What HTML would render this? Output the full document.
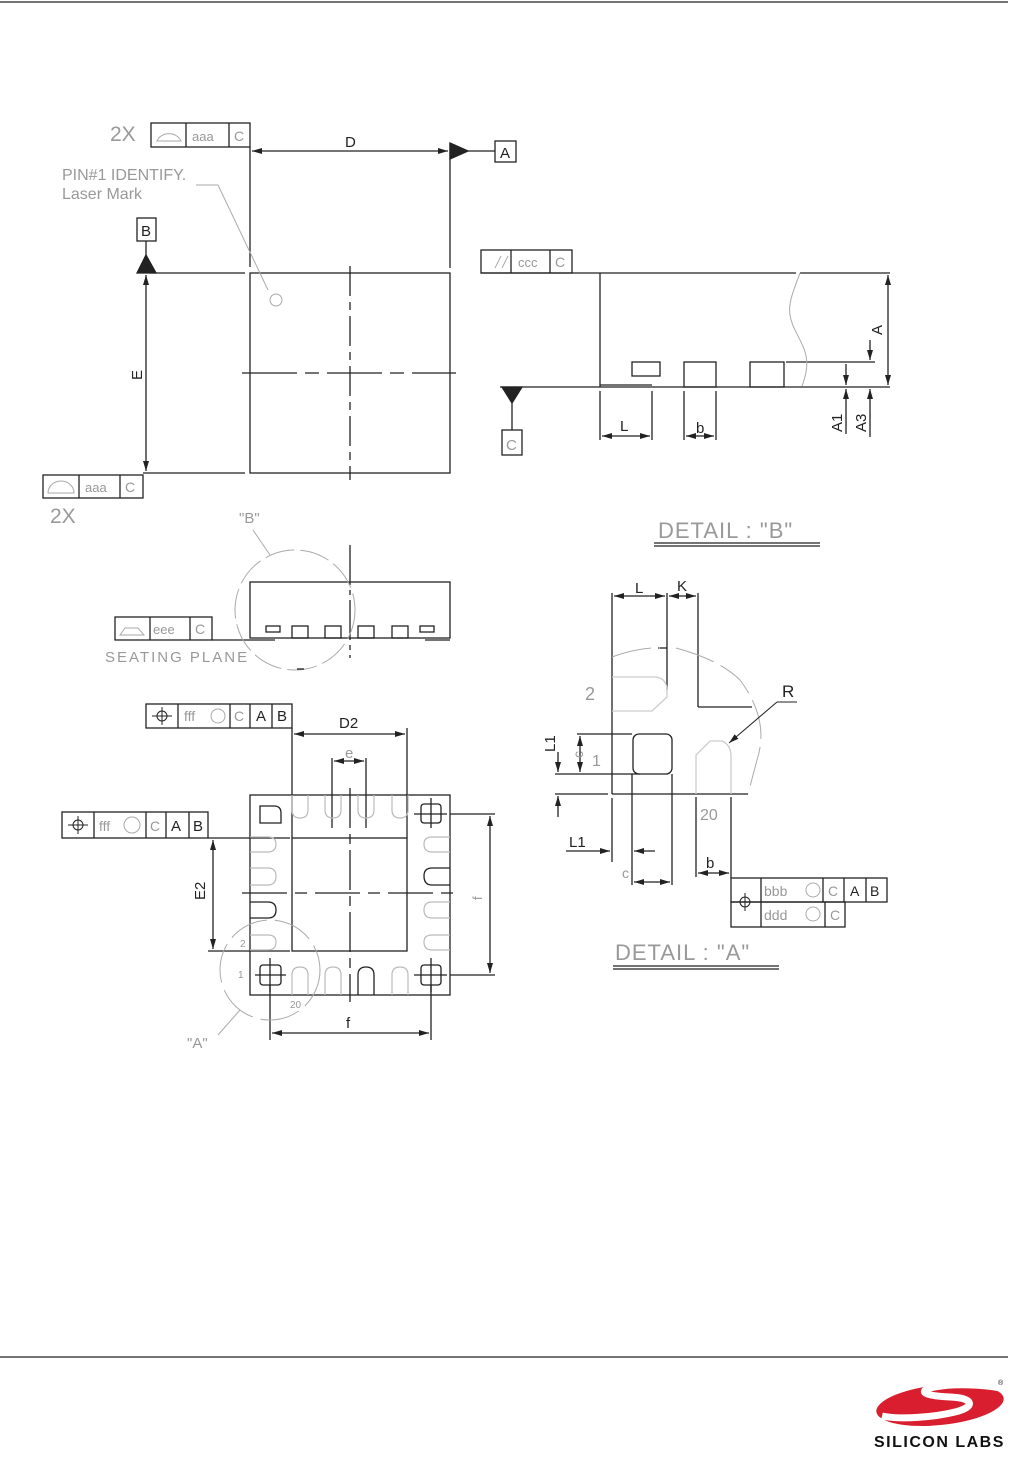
<!DOCTYPE html>
<html><head><meta charset="utf-8"><style>
html,body{margin:0;padding:0;background:#fff;}
svg{display:block;}
text{font-family:"Liberation Sans",sans-serif;}
.t{fill:#999;font-weight:normal;}
.d{fill:#222;}
</style></head><body>
<svg width="1010" height="1468" viewBox="0 0 1010 1468" xmlns="http://www.w3.org/2000/svg">
<defs>
<marker id="ar" viewBox="0 0 10 6" refX="10" refY="3" markerWidth="10" markerHeight="6" orient="auto-start-reverse" markerUnits="userSpaceOnUse"><path d="M0,0 L10,3 L0,6 z" fill="#222"/></marker>
</defs>
<g stroke="#222" stroke-width="1.3" fill="none">
<line x1="0" y1="2" x2="1008" y2="2"/>
<line x1="0" y1="1357" x2="1008" y2="1357"/>

<!-- TOP VIEW -->
<rect x="250" y="273" width="200" height="200"/>
<line x1="350" y1="266" x2="350" y2="480" stroke-dasharray="30,6,8,6"/>
<line x1="242" y1="373" x2="456" y2="373" stroke-dasharray="55,8,14,8"/>
<line x1="250" y1="147" x2="250" y2="267"/>
<line x1="450" y1="143" x2="450" y2="268"/>
<line x1="252" y1="151" x2="448" y2="151" marker-start="url(#ar)" marker-end="url(#ar)"/>
<path d="M450,143 L468,151 L450,159 z" fill="#222"/>
<line x1="468" y1="151" x2="495" y2="151"/>
<rect x="495" y="141" width="21" height="21"/>
<rect x="151" y="123" width="99" height="24"/>
<line x1="186" y1="123" x2="186" y2="147"/><line x1="229" y1="123" x2="229" y2="147"/>
<rect x="137" y="218" width="19" height="23"/>
<line x1="146" y1="241" x2="146" y2="256"/>
<path d="M137,273 L146,255 L156,273 z" fill="#222"/>
<line x1="150" y1="273" x2="245" y2="273"/>
<line x1="146" y1="275" x2="146" y2="471" marker-start="url(#ar)" marker-end="url(#ar)"/>
<line x1="143" y1="473" x2="245" y2="473"/>
<rect x="43" y="475" width="100" height="23"/>
<line x1="79" y1="475" x2="79" y2="498"/><line x1="120" y1="475" x2="120" y2="498"/>
<g stroke="#aaa" stroke-width="1">
<polyline points="196,185 218,185 268,290"/>
<circle cx="276" cy="300" r="6"/>
<path d="M157,141 A13,12 0 0 1 181,141 Z"/>
<path d="M48,493 A13,12 0 0 1 74,493 Z"/>
</g>

<!-- SIDE VIEW RIGHT -->
<rect x="481" y="250" width="91" height="23"/>
<line x1="511" y1="250" x2="511" y2="273"/><line x1="550" y1="250" x2="550" y2="273"/>
<line x1="495" y1="268" x2="501" y2="256" stroke="#aaa" stroke-width="1"/><line x1="502" y1="268" x2="508" y2="256" stroke="#aaa" stroke-width="1"/>
<line x1="481" y1="273" x2="796" y2="273"/><line x1="800" y1="273" x2="890" y2="273"/>
<line x1="600" y1="273" x2="600" y2="387"/>
<line x1="500" y1="387" x2="890" y2="387"/>
<line x1="600" y1="385" x2="652" y2="385"/>
<path d="M502,387 L512,403 L522,387 z" fill="#222"/>
<line x1="512" y1="403" x2="512" y2="430"/>
<rect x="502" y="430" width="20" height="25"/>
<rect x="632" y="362" width="28" height="14"/>
<rect x="684" y="362" width="32" height="25"/>
<rect x="750" y="362" width="34" height="25"/>
<line x1="786" y1="362" x2="875" y2="362"/>
<path d="M800,273 C790,300 785,310 795,330 C805,350 812,360 802,386" stroke="#aaa" stroke-width="1"/>
<line x1="888" y1="275" x2="888" y2="385" marker-start="url(#ar)" marker-end="url(#ar)"/>
<line x1="870" y1="340" x2="870" y2="360" marker-end="url(#ar)"/>
<line x1="870" y1="437" x2="870" y2="389" marker-end="url(#ar)"/>
<line x1="846" y1="364" x2="846" y2="385" marker-end="url(#ar)"/>
<line x1="846" y1="434" x2="846" y2="389" marker-end="url(#ar)"/>
<line x1="600" y1="391" x2="600" y2="440"/><line x1="652" y1="391" x2="652" y2="440"/>
<line x1="602" y1="436" x2="650" y2="436" marker-start="url(#ar)" marker-end="url(#ar)"/>
<line x1="684" y1="391" x2="684" y2="440"/><line x1="716" y1="391" x2="716" y2="440"/>
<line x1="686" y1="436" x2="714" y2="436" marker-start="url(#ar)" marker-end="url(#ar)"/>

<!-- SIDE VIEW BOTTOM -->
<rect x="250" y="582" width="200" height="56"/>
<line x1="350" y1="545" x2="350" y2="658" stroke-dasharray="40,5,5,5"/>
<rect x="266" y="626" width="14" height="6"/>
<rect x="292" y="626" width="16" height="12"/>
<rect x="325" y="626" width="16" height="12"/>
<rect x="358" y="626" width="16" height="12"/>
<rect x="392" y="626" width="16" height="12"/>
<rect x="420" y="626" width="14" height="6"/>
<line x1="212" y1="640" x2="275" y2="640"/>
<line x1="425" y1="640" x2="450" y2="640"/>
<rect x="115" y="617" width="97" height="23"/>
<line x1="150" y1="617" x2="150" y2="640"/><line x1="190" y1="617" x2="190" y2="640"/>
<circle cx="295" cy="610" r="60" stroke="#aaa" stroke-width="1" stroke-dasharray="30,6"/>
<line x1="253" y1="530" x2="270" y2="555" stroke="#aaa" stroke-width="1"/>
<path d="M120,635 L125,628 L138,628 L144,635 Z" stroke="#aaa" stroke-width="1"/>
<line x1="297" y1="669" x2="304" y2="669"/>
<line x1="654" y1="543" x2="820" y2="543"/><line x1="654" y1="546" x2="820" y2="546"/>

<!-- BOTTOM VIEW -->
<rect x="250" y="795" width="200" height="200"/>
<rect x="292" y="838" width="115" height="113"/>
<line x1="350" y1="788" x2="350" y2="1002" stroke-dasharray="40,6,10,6"/>
<line x1="242" y1="893" x2="455" y2="893" stroke-dasharray="45,8,12,8"/>
<rect x="146" y="704" width="146" height="24"/>
<line x1="178" y1="704" x2="178" y2="728"/><line x1="230" y1="704" x2="230" y2="728"/><line x1="250" y1="704" x2="250" y2="728"/><line x1="272" y1="704" x2="272" y2="728"/>
<rect x="62" y="812" width="146" height="26"/>
<line x1="94" y1="812" x2="94" y2="838"/><line x1="146" y1="812" x2="146" y2="838"/><line x1="166" y1="812" x2="166" y2="838"/><line x1="189" y1="812" x2="189" y2="838"/>
<line x1="292" y1="728" x2="292" y2="838"/><line x1="407" y1="728" x2="407" y2="838"/>
<line x1="294" y1="734" x2="405" y2="734" marker-start="url(#ar)" marker-end="url(#ar)"/>
<line x1="332" y1="758" x2="332" y2="828"/><line x1="366" y1="758" x2="366" y2="828"/>
<line x1="334" y1="761" x2="364" y2="761" marker-start="url(#ar)" marker-end="url(#ar)"/>
<line x1="208" y1="838" x2="290" y2="838"/><line x1="208" y1="951" x2="290" y2="951"/>
<line x1="213" y1="840" x2="213" y2="949" marker-start="url(#ar)" marker-end="url(#ar)"/>
<line x1="450" y1="814" x2="495" y2="814"/><line x1="450" y1="975" x2="495" y2="975"/>
<line x1="490" y1="816" x2="490" y2="973" marker-start="url(#ar)" marker-end="url(#ar)"/>
<line x1="270" y1="985" x2="270" y2="1040"/><line x1="431" y1="985" x2="431" y2="1040"/>
<line x1="272" y1="1033" x2="429" y2="1033" marker-start="url(#ar)" marker-end="url(#ar)"/>
<!-- corner pads -->
<path d="M260,806 L274,806 Q281,806 281,813 L281,823 L260,823 Z"/>
<rect x="421" y="804" width="20" height="19" rx="3"/>
<line x1="414" y1="814" x2="447" y2="814"/><line x1="431" y1="798" x2="431" y2="828"/>
<rect x="260" y="965" width="21" height="20" rx="3"/>
<line x1="270" y1="958" x2="270" y2="992"/><line x1="255" y1="975" x2="286" y2="975"/>
<rect x="421" y="965" width="20" height="20" rx="3"/>
<line x1="414" y1="975" x2="447" y2="975"/><line x1="431" y1="958" x2="431" y2="992"/>
<!-- side pads -->
<g stroke="#bbb" stroke-width="1.2">
<path d="M292,795 L292,810 Q292,818 300,818 Q308,818 308,810 L308,795"/>
<path d="M325,795 L325,810 Q325,818 333,818 Q341,818 341,810 L341,795"/>
<path d="M358,795 L358,810 Q358,818 366,818 Q374,818 374,810 L374,795"/>
<path d="M392,795 L392,810 Q392,818 400,818 Q408,818 408,810 L408,795"/>
<path d="M292,995 L292,975 Q292,967 300,967 Q308,967 308,975 L308,995"/>
<path d="M325,995 L325,975 Q325,967 333,967 Q341,967 341,975 L341,995"/>
<path d="M392,995 L392,975 Q392,967 400,967 Q408,967 408,975 L408,995"/>
<path d="M250,837 L268,837 Q276,837 276,844 Q276,852 268,852 L250,852"/>
<path d="M250,868 L268,868 Q276,868 276,876 Q276,885 268,885 L250,885"/>
<path d="M250,935 L268,935 Q276,935 276,942 Q276,950 268,950 L250,950"/>
<path d="M450,837 L432,837 Q424,837 424,844 Q424,852 432,852 L450,852"/>
<path d="M450,902 L432,902 Q424,902 424,910 Q424,918 432,918 L450,918"/>
<path d="M450,935 L432,935 Q424,935 424,942 Q424,950 432,950 L450,950"/>
</g>
<path d="M358,995 L358,975 Q358,967 366,967 Q374,967 374,975 L374,995"/>
<path d="M250,902 L268,902 Q276,902 276,910 Q276,918 268,918 L250,918"/>
<path d="M450,868 L432,868 Q424,868 424,876 Q424,885 432,885 L450,885"/>
<circle cx="270" cy="970" r="50" stroke="#aaa" stroke-width="1" stroke-dasharray="40,8"/>
<line x1="218" y1="1035" x2="240" y2="1010" stroke="#aaa" stroke-width="1"/>

<!-- DETAIL A -->
<line x1="612" y1="593" x2="612" y2="794"/>
<line x1="667" y1="593" x2="667" y2="690"/>
<line x1="698" y1="593" x2="698" y2="707"/>
<line x1="698" y1="707" x2="752" y2="707"/>
<line x1="614" y1="596" x2="665" y2="596" marker-start="url(#ar)" marker-end="url(#ar)"/>
<line x1="669" y1="596" x2="696" y2="596" marker-start="url(#ar)" marker-end="url(#ar)"/>
<line x1="658" y1="648" x2="667" y2="648"/>
<path d="M612,657 Q640,647 660,648 M676,648 Q720,660 740,680 Q770,720 757,760 L748,794" stroke="#aaa" stroke-width="1" stroke-dasharray="40,8"/>
<line x1="612" y1="794" x2="748" y2="794"/>
<path d="M612,677 L656,677 Q667,679 667,690 L667,697 L652,711 L612,711" stroke="#ccc"/>
<rect x="633" y="734" width="39" height="40" rx="6"/>
<path d="M696,794 L696,755 L710,741 L722,741 Q731,745 731,756 L731,794" stroke="#ccc"/>
<line x1="577" y1="734" x2="632" y2="734"/>
<line x1="555" y1="774" x2="640" y2="774"/>
<line x1="555" y1="794" x2="608" y2="794"/>
<line x1="580" y1="736" x2="580" y2="772" marker-start="url(#ar)" marker-end="url(#ar)"/>
<line x1="558" y1="752" x2="558" y2="772" marker-end="url(#ar)"/>
<line x1="558" y1="817" x2="558" y2="796" marker-end="url(#ar)"/>
<line x1="612" y1="798" x2="612" y2="862"/>
<line x1="632" y1="774" x2="632" y2="885"/><line x1="672" y1="774" x2="672" y2="885"/>
<line x1="566" y1="851" x2="610" y2="851" marker-end="url(#ar)"/>
<line x1="655" y1="851" x2="634" y2="851" marker-end="url(#ar)"/>
<line x1="634" y1="882" x2="670" y2="882" marker-start="url(#ar)" marker-end="url(#ar)"/>
<line x1="696" y1="797" x2="696" y2="877"/><line x1="731" y1="797" x2="731" y2="878"/>
<line x1="698" y1="873" x2="729" y2="873" marker-start="url(#ar)" marker-end="url(#ar)"/>
<line x1="777" y1="702" x2="729" y2="743" stroke-width="1" marker-end="url(#ar)"/>
<line x1="777" y1="702" x2="797" y2="702" stroke-width="1"/>
<rect x="731" y="878" width="156" height="24"/>
<rect x="731" y="902" width="114" height="25"/>
<line x1="761" y1="878" x2="761" y2="927"/><line x1="823" y1="878" x2="823" y2="902"/><line x1="844" y1="878" x2="844" y2="902"/><line x1="866" y1="878" x2="866" y2="902"/><line x1="825" y1="902" x2="825" y2="927"/>
<line x1="613" y1="966" x2="779" y2="966"/><line x1="613" y1="969" x2="779" y2="969"/>
<!-- GDT symbols -->
<g stroke="#222" stroke-width="1">
<circle cx="162" cy="716" r="5"/><line x1="152" y1="716" x2="172" y2="716"/><line x1="162" y1="707" x2="162" y2="725"/>
<circle cx="78" cy="825" r="5"/><line x1="68" y1="825" x2="88" y2="825"/><line x1="78" y1="816" x2="78" y2="834"/>
<circle cx="745" cy="902" r="5"/><line x1="736" y1="902" x2="754" y2="902"/><line x1="745" y1="893" x2="745" y2="911"/>
</g>
<g stroke="#aaa" stroke-width="1">
<circle cx="218" cy="716" r="7"/><circle cx="132" cy="825" r="8"/>
<circle cx="813" cy="890" r="7"/><circle cx="813" cy="914" r="7"/>
</g>
</g>

<!-- TEXT -->
<g font-size="18" class="t">
<text x="110" y="141" font-size="21">2X</text>
<text x="50" y="523" font-size="21">2X</text>
<text x="62" y="180" font-size="16">PIN#1 IDENTIFY.</text>
<text x="62" y="199" font-size="16">Laser Mark</text>
<text x="105" y="662" font-size="15" letter-spacing="2">SEATING PLANE</text>
<text x="658" y="538" font-size="22" letter-spacing="1">DETAIL : "B"</text>
<text x="615" y="960" font-size="22" letter-spacing="1">DETAIL : "A"</text>
<text x="184" y="721" font-size="14">fff</text>
<text x="99" y="831" font-size="14">fff</text>
<text x="192" y="141" font-size="13">aaa</text>
<text x="85" y="492" font-size="13">aaa</text>
<text x="234" y="141" font-size="14">C</text>
<text x="125" y="492" font-size="14">C</text>
<text x="518" y="267" font-size="13">ccc</text>
<text x="555" y="267" font-size="14">C</text>
<text x="153" y="634" font-size="13">eee</text>
<text x="195" y="634" font-size="14">C</text>
<text x="234" y="721" font-size="14">C</text>
<text x="150" y="831" font-size="14">C</text>
<text x="506" y="450" font-size="15">C</text>
<text x="585" y="700" font-size="18">2</text>
<text x="592" y="766" font-size="16">1</text>
<text x="700" y="820" font-size="16">20</text>
<text x="764" y="896" font-size="14">bbb</text>
<text x="764" y="920" font-size="14">ddd</text>
<text x="828" y="896" font-size="14">C</text>
<text x="830" y="920" font-size="14">C</text>
<text x="622" y="878" font-size="14">c</text>
<text x="345" y="758" font-size="15">e</text>
<text x="239" y="523" font-size="15">"B"</text>
<text x="187" y="1048" font-size="15">"A"</text>
<text x="240" y="947" font-size="10">2</text>
<text x="238" y="978" font-size="10">1</text>
<text x="290" y="1008" font-size="10">20</text>
<text x="482" y="900" font-size="13" transform="rotate(-90 482 900)">f</text>
<text x="583" y="758" font-size="14" transform="rotate(-90 583 758)">c</text>
</g>
<g class="d" font-size="15">
<text x="345" y="147">D</text>
<text x="500" y="158">A</text>
<text x="141" y="236">B</text>
<text x="142" y="380" transform="rotate(-90 142 380)">E</text>
<text x="339" y="728">D2</text>
<text x="205" y="900" transform="rotate(-90 205 900)">E2</text>
<text x="346" y="1028">f</text>
<text x="256" y="721">A</text>
<text x="277" y="721">B</text>
<text x="171" y="831">A</text>
<text x="193" y="831">B</text>
<text x="620" y="431">L</text>
<text x="696" y="433">b</text>
<text x="882" y="335" transform="rotate(-90 882 335)">A</text>
<text x="842" y="432" transform="rotate(-90 842 432)">A1</text>
<text x="866" y="432" transform="rotate(-90 866 432)">A3</text>
<text x="635" y="593">L</text>
<text x="677" y="591">K</text>
<text x="782" y="697" font-size="17">R</text>
<text x="569" y="847">L1</text>
<text x="555" y="752" transform="rotate(-90 555 752)">L1</text>
<text x="706" y="868">b</text>
<text x="850" y="896" font-size="14">A</text>
<text x="870" y="896" font-size="14">B</text>
</g>

<!-- LOGO -->
<g>
<ellipse cx="940" cy="1405" rx="64" ry="20" transform="rotate(-6 940 1405)" fill="#d91f2f"/>
<path d="M882,1416 C900,1420 935,1417 955,1412 C975,1407 975,1398 950,1397 C925,1396 915,1391 935,1387 C955,1383 985,1385 1000,1388" stroke="#fff" stroke-width="7" fill="none"/>
</g>
<text x="874" y="1447" font-size="16" font-weight="bold" fill="#111" letter-spacing="1.5" font-family="Liberation Sans, sans-serif">SILICON LABS</text>
<text x="998" y="1385" font-size="7" fill="#111">®</text>
</svg>
</body></html>
